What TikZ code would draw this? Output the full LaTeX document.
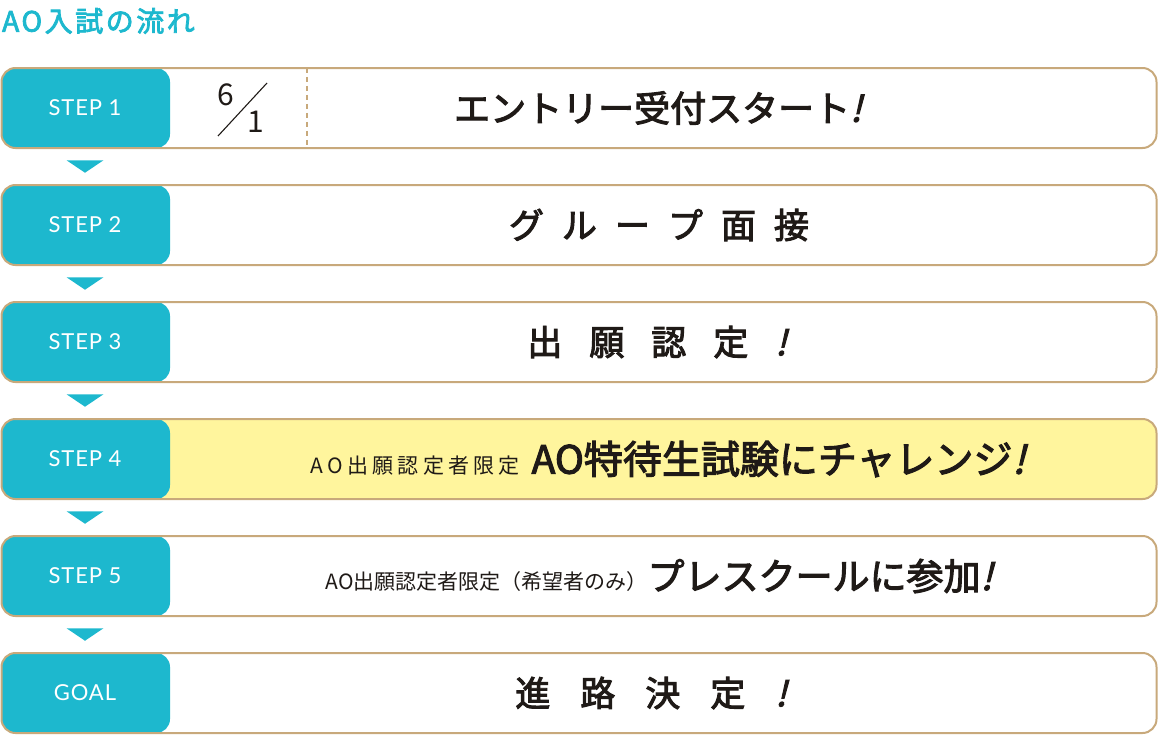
\documentclass[tikz,border=0pt]{standalone}
\usepackage{fontspec}
\usepackage{xcolor}
\usepackage{tikz}
\usetikzlibrary{positioning}
\setmainfont{Lato}
\newfontfamily\jpfont{Noto Sans CJK JP}
\newfontfamily\jpmid{Noto Sans CJK JP}[FakeBold=2.8]
\newfontfamily\jpslant{Noto Sans CJK JP}[FakeSlant=0.25,FakeBold=2.8]
\newfontfamily\jpspread{Noto Sans CJK JP}[LetterSpace=20]
\newfontfamily\steplatin{Lato}[LetterSpace=4]
\definecolor{stepteal}{HTML}{1DB8CE}
\definecolor{rowline}{HTML}{C8A97B}
\definecolor{rowyellow}{HTML}{FFF59D}
\definecolor{inkblack}{HTML}{1F1A17}
\newcommand{\bang}{{\jpslant !}}
\newcommand{\flowtri}[1]{\fill[stepteal] ([xshift=-18.5pt,yshift=6.25pt]#1) -- ([xshift=18.5pt,yshift=6.25pt]#1) -- ([yshift=-6.25pt]#1) -- cycle;}

\begin{document}
\begin{tikzpicture}[x=1pt,y=1pt,on grid,every node/.style={inner sep=0pt},
  rowbox/.style={rounded corners=14pt,fill=white,
    minimum width=1155pt,minimum height=80pt,
    path picture={\fill[stepteal] (path picture bounding box.north west)
      rectangle ([xshift=168.5pt]path picture bounding box.south west);},
    postaction={draw=rowline,line width=2pt}},
  steplabel/.style={text=white,font=\steplatin\fontsize{22}{22}\selectfont},
  maintext/.style={text=inkblack,font=\jpmid\fontsize{35}{35}\selectfont},
  divider/.style={draw=rowline,line width=1.5pt,dash pattern=on 5pt off 4pt}]
\useasboundingbox (0,0) rectangle (1159,-736);
% title
\node[anchor=west,text=stepteal,
  font=\jpmid\fontsize{28}{28}\selectfont\addfontfeature{LetterSpace=9}] (title) at (2,-21) {AO入試の流れ};
% rows
\node[rowbox] (r1) at (579,-108) {};
\node[rowbox,below=117pt of r1] (r2) {};
\node[rowbox,below=117pt of r2] (r3) {};
\node[rowbox,below=117pt of r3,fill=rowyellow] (r4) {};
\node[rowbox,below=117pt of r4] (r5) {};
\node[rowbox,below=117pt of r5] (r6) {};
% step labels
\node[steplabel] (s1) at (85,0 |- r1) {STEP 1};
\node[steplabel] (s2) at (85,0 |- r2) {STEP 2};
\node[steplabel] (s3) at (85,0 |- r3) {STEP 3};
\node[steplabel] (s4) at (85,0 |- r4) {STEP 4};
\node[steplabel] (s5) at (85,0 |- r5) {STEP 5};
\node[steplabel] (s6) at (85,0 |- r6) {GOAL};
% triangles
\coordinate[below=58.5pt of s1] (t1);
\coordinate[below=58.5pt of s2] (t2);
\coordinate[below=58.5pt of s3] (t3);
\coordinate[below=58.5pt of s4] (t4);
\coordinate[below=58.5pt of s5] (t5);
\flowtri{t1}
\flowtri{t2}
\flowtri{t3}
\flowtri{t4}
\flowtri{t5}
% step 1 date
\node[text=inkblack,font=\jpfont\fontsize{30}{30}\selectfont] (month) at (225.5,-95) {6};
\node[text=inkblack,font=\jpfont\fontsize{30}{30}\selectfont] (day) at (256,-122) {1};
\draw[inkblack,line width=1.1pt] (218,-136) -- (267,-83);
\draw[divider] (307,0 |- r1.north) -- (307,0 |- r1.south);
% texts
\node[maintext,font=\jpmid\fontsize{36}{36}\selectfont] (m1) at (658,-108) {エントリー受付スタート\bang};
\node[maintext] (m2) at (659,-225) {\spaceskip=18pt グ ル ー プ 面 接};
\node[maintext] (m3) at (657,-342) {\spaceskip=27pt 出 願 認 定 \bang};
\node[maintext] (m4) at (668,-459) {{\jpspread\fontsize{21}{21}\selectfont AO出願認定者限定}\hspace{12pt}{\fontsize{39}{39}\selectfont AO特待生試験にチャレンジ\bang}};
\node[maintext] (m5) at (659,-576) {{\jpfont\fontsize{21}{21}\selectfont AO出願認定者限定（希望者のみ）}{\fontsize{37}{37}\selectfont プレスクールに参加\bang}};
\node[maintext] (m6) at (651,-693) {\spaceskip=30pt 進 路 決 定 \bang};
\end{tikzpicture}
\end{document}
